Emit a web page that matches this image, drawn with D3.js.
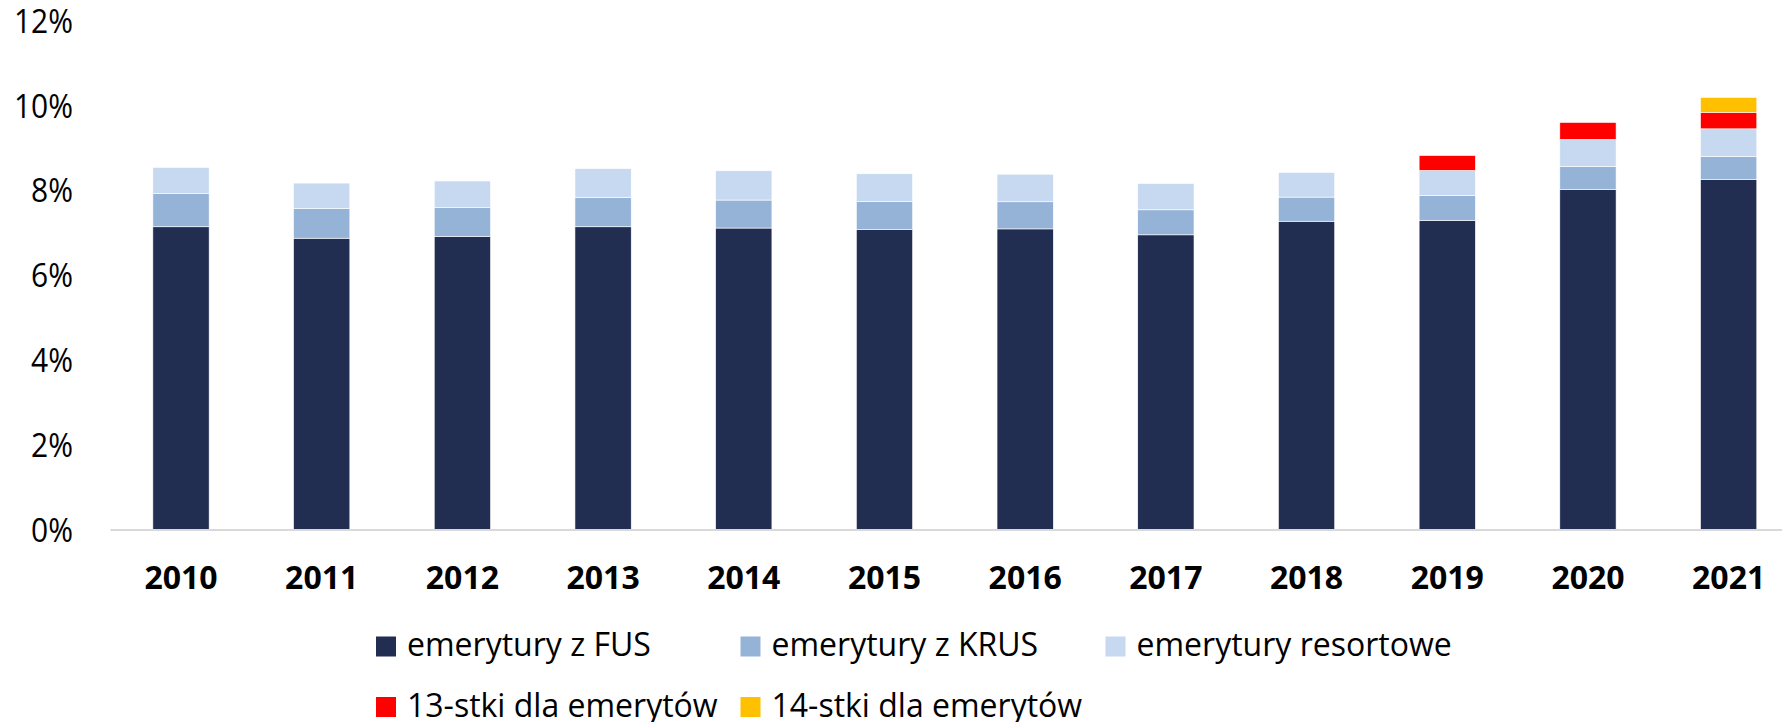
<!DOCTYPE html>
<html><head><meta charset="utf-8">
<script src="https://cdn.jsdelivr.net/npm/d3@7/dist/d3.min.js"></script>
<style>body{margin:0;background:#fff}svg{display:block}</style>
</head><body>
<svg id="c" width="1785" height="722"></svg>
<script>
const years = ["2010","2011","2012","2013","2014","2015","2016","2017","2018","2019","2020","2021"];
const fus    = [7.14,6.87,6.91,7.14,7.11,7.08,7.09,6.95,7.27,7.29,8.02,8.25];
const krus   = [0.78,0.70,0.68,0.69,0.66,0.66,0.64,0.59,0.57,0.59,0.54,0.55];
const resort = [0.62,0.60,0.63,0.68,0.69,0.65,0.65,0.62,0.58,0.59,0.64,0.65];
const trzyn  = [0,0,0,0,0,0,0,0,0,0.35,0.40,0.39];
const czternast = [0,0,0,0,0,0,0,0,0,0,0,0.35];
const seriesNames = ["emerytury z FUS","emerytury z KRUS","emerytury resortowe","13-stki dla emerytów","14-stki dla emerytów"];
const colors = ["#222D52","#95B3D7","#C6D9F1","#FF0000","#FFC000"];
const yTicks = [0,2,4,6,8,10,12];

const svg = d3.select("#c");
const x = d3.scaleBand().domain(years).range([110.65, 1799]).paddingInner(0.6).paddingOuter(0.3);
const y = d3.scaleLinear().domain([0,12]).range([529.5, 20.7]);

const keys = ["fus","krus","resort","t13","t14"];
const rows = years.map((yr,i)=>({year:yr,fus:fus[i],krus:krus[i],resort:resort[i],t13:trzyn[i],t14:czternast[i]}));
const stacked = d3.stack().keys(keys)(rows);

svg.append("g").selectAll("g").data(stacked).join("g")
  .attr("fill",(d,i)=>colors[i])
  .selectAll("rect").data(d=>d.filter(p=>p[1]-p[0]>0)).join("rect")
  .attr("x",d=>x(d.data.year))
  .attr("width",x.bandwidth())
  .attr("y",d=>y(d[1]))
  .attr("height",d=>y(d[0])-y(d[1]))
  .attr("stroke","#ffffff").attr("stroke-width",0.6);

// x axis line
svg.append("line").attr("x1",110.5).attr("x2",1782).attr("y1",y(0)+0.5).attr("y2",y(0)+0.5)
  .attr("stroke","#D9D9D9").attr("stroke-width",2);

// y labels
svg.append("g").selectAll("text").data(yTicks).join("text")
  .attr("transform",d=>`translate(73,${y(d)+12}) scale(1,1.12)`)
  .attr("text-anchor","end")
  .attr("font-family","Open Sans").attr("font-size",30).attr("fill","#000")
  .text(d=>d+"%");

// x labels
svg.append("g").selectAll("text").data(years).join("text")
  .attr("transform",d=>`translate(${x(d)+x.bandwidth()/2},589) scale(1,1.03)`)
  .attr("text-anchor","middle")
  .attr("font-family","Open Sans").attr("font-weight","bold").attr("font-size",32).attr("fill","#000")
  .text(d=>d);

// legend
const legPos = [[376,656],[740.5,656],[1105.5,656],[376,716.5],[740.5,716.5]];
const lg = svg.append("g").selectAll("g").data(seriesNames).join("g")
  .attr("transform",(d,i)=>`translate(${legPos[i][0]},${legPos[i][1]})`);
lg.append("rect").attr("x",0).attr("y",-19.5).attr("width",20).attr("height",20).attr("fill",(d,i)=>colors[i]);
lg.append("text").attr("x",31).attr("y",0)
  .attr("font-family","Open Sans").attr("font-size",32).attr("fill","#000").text(d=>d);
</script>
</body></html>
